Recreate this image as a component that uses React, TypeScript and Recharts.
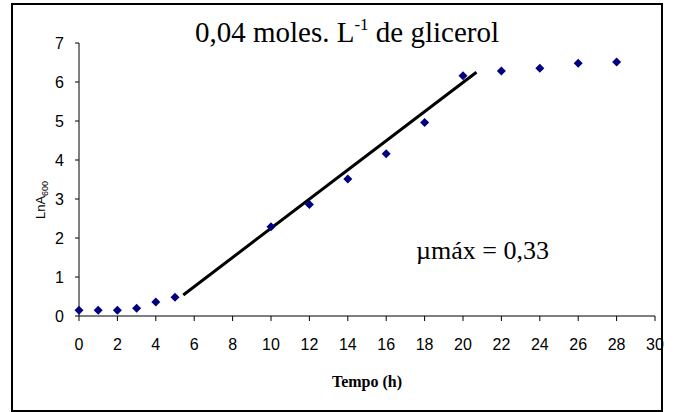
import { ComposedChart, Line, Scatter, XAxis, YAxis } from 'recharts'

const hours = [0, 1, 2, 3, 4, 5, 10, 12, 14, 16, 18, 20, 22, 24, 26, 28]
const lnA600 = [0.15, 0.15, 0.15, 0.2, 0.36, 0.48, 2.29, 2.86, 3.51, 4.16, 4.96, 6.16, 6.28, 6.35, 6.48, 6.51]

const fitHours = [5.43, 20.7]
const fitValues = [0.54, 6.25]

const xTicks = [0, 2, 4, 6, 8, 10, 12, 14, 16, 18, 20, 22, 24, 26, 28, 30]
const yTicks = [0, 1, 2, 3, 4, 5, 6, 7]

const points = hours.map((t, i) => ({ t, v: lnA600[i] }))
const fit = fitHours.map((t, i) => ({ t, v: fitValues[i] }))

const tickFont = { fontFamily: 'Liberation Sans, Arial, sans-serif', fontSize: 16, fill: '#000' }
const serif = 'Liberation Serif, Times New Roman, serif'

function Diamond(props: any) {
  const { cx, cy } = props
  const r = 4.5
  return (
    <polygon
      points={`${cx},${cy - r} ${cx + r},${cy} ${cx},${cy + r} ${cx - r},${cy}`}
      fill="#000080"
    />
  )
}

export default function App() {
  return (
    <div style={{ position: 'absolute', left: 0, top: 0, width: 675, height: 412, background: '#fff' }}>
      <div
        style={{
          position: 'absolute',
          left: 11,
          top: 3,
          width: 648,
          height: 405,
          border: '2px solid #000',
        }}
      />
      <ComposedChart
        width={675}
        height={412}
        margin={{ top: 43, right: 20, bottom: 66, left: 19 }}
        style={{ position: 'absolute', left: 0, top: 0 }}
      >
        <XAxis
          dataKey="t"
          type="number"
          domain={[0, 30]}
          ticks={xTicks}
          interval={0}
          height={30}
          tickSize={5}
          tickMargin={18}
          tick={tickFont}
          axisLine={{ stroke: '#000' }}
          tickLine={{ stroke: '#000' }}
          allowDuplicatedCategory={false}
        />
        <YAxis
          dataKey="v"
          type="number"
          domain={[0, 7]}
          ticks={yTicks}
          interval={0}
          width={60}
          tickSize={4}
          tickMargin={11}
          tick={tickFont}
          axisLine={{ stroke: '#000' }}
          tickLine={{ stroke: '#000' }}
        />
        <Line
          data={fit}
          dataKey="v"
          stroke="#000"
          strokeWidth={3}
          dot={false}
          activeDot={false}
          isAnimationActive={false}
        />
        <Scatter data={points} dataKey="v" shape={<Diamond />} isAnimationActive={false} />
        <text x={347} y={42} textAnchor="middle" fontFamily={serif} fontSize={29} fill="#000">
          0,04 moles. L
          <tspan fontSize={17} dy={-12}>-1</tspan>
          <tspan dy={12}> de glicerol</tspan>
        </text>
        <text x={416} y={259} fontFamily={serif} fontSize={26} fill="#000">
          µmáx = 0,33
        </text>
        <text
          x={367}
          y={387}
          textAnchor="middle"
          fontFamily={serif}
          fontSize={16}
          fontWeight="bold"
          fill="#000"
        >
          Tempo (h)
        </text>
        <text
          transform="translate(45,200) rotate(-90)"
          textAnchor="middle"
          fontFamily="Liberation Sans, Arial, sans-serif"
          fontSize={13}
          fill="#000"
        >
          LnA
          <tspan fontSize={9} dy={3}>600</tspan>
        </text>
      </ComposedChart>
    </div>
  )
}
